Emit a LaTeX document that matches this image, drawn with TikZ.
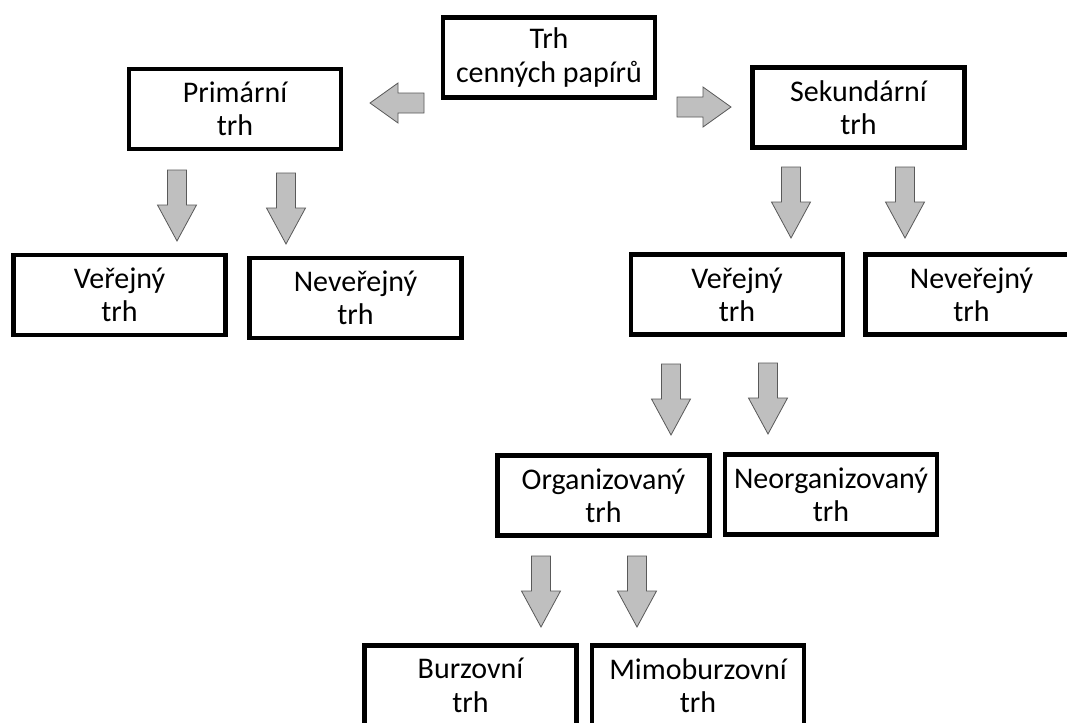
\documentclass[tikz,border=0pt]{standalone}
\usepackage{fontspec}
\setmainfont{Carlito}
\usepackage{tikz}

\tikzset{
  market/.style={draw=black, line width=3.6pt, minimum width=159pt, minimum height=60pt,
                 inner sep=0pt, align=center, font=\fontsize{22.5}{25}\selectfont},
  arrowfill/.style={fill=gray!50, draw=black!65, line width=0.6pt},
  downarr/.pic={\draw[arrowfill] (-9.5,0) -- (9.5,0) -- (9.5,35) -- (19.5,35) -- (0,71)
                 -- (-19.5,35) -- (-9.5,35) -- cycle;},
  sidearr/.pic={\draw[arrowfill] (0,0) -- (28,-20) -- (28,-10) -- (54,-10) -- (54,10)
                 -- (28,10) -- (28,20) -- cycle;}
}

\begin{document}
\begin{tikzpicture}[x=0.75pt, y=-0.75pt]

\path[use as bounding box, fill=white] (0,0) rectangle (1067,722);
\clip (0,0) rectangle (1067,722);

\node [market] (trh)   at (549,57.5)   {Trh\\cenných papírů};
\node [market] (prim)  at (235,109)    {Primární\\trh};
\node [market] (sek)   at (858.5,107.5) {Sekundární\\trh};

\node [market] (verP)  at (119.5,295) {Veřejný\\trh};
\node [market] (nevP)  at (355.5,298) {Neveřejný\\trh};
\node [market] (verS)  at (737,294.5)   {Veřejný\\trh};
\node [market] (nevS)  at (971.5,294.5) {Neveřejný\\trh};

\node [market] (org)   at (603.5,495.5) {Organizovaný\\trh};
\node [market] (neorg) at (831,494.5)   {Neorganizovaný\\trh};

\node [market] (burz)  at (470.5,685.5) {Burzovní\\trh};
\node [market] (mimo)  at (698,685.5)   {Mimoburzovní\\trh};

\pic at (370,103) {sidearr}; % to Primární
\pic[xscale=-1] at (731,107) {sidearr}; % to Sekundární

\foreach \ax/\ay in {177/170, 286/173, 791/167, 905/167, 671/364, 768/363, 541/556, 637/556}{
    \pic at (\ax,\ay) {downarr};
}

\end{tikzpicture}
\end{document}
